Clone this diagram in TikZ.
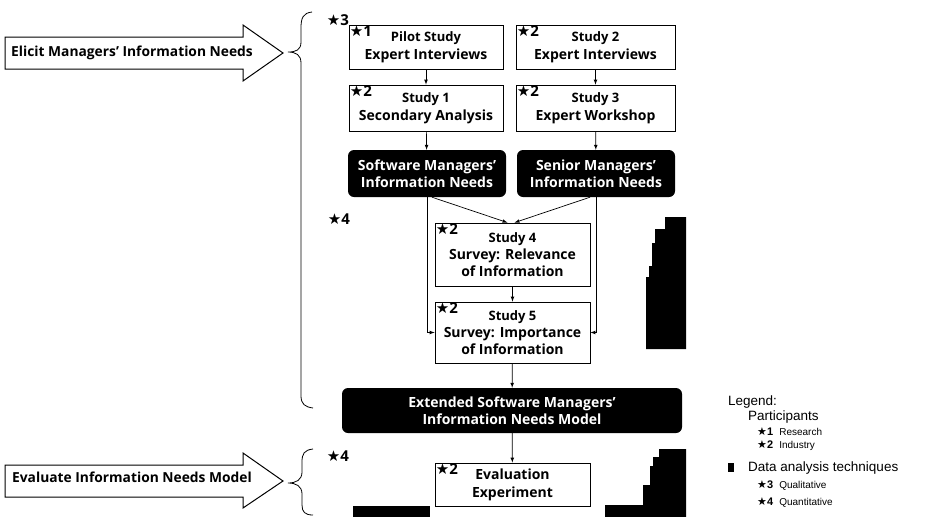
\documentclass[tikz,border=0pt]{standalone}
\usepackage{fontspec}
\setmainfont{Open Sans}
\newfontfamily\symfont{DejaVu Sans}
\newfontfamily\legfont{Liberation Sans}
\usepackage{tikz}
\usetikzlibrary{arrows}

\newcommand{\st}[1]{{\symfont\fontsize{15}{10}\selectfont ★}\textbf{#1}}
\newcommand{\lst}[1]{{\symfont\fontsize{11}{10}\selectfont ★}{\fontsize{11}{10}\selectfont\textbf{#1}}}
\newcommand{\ttl}[1]{{\fontsize{13}{14}\selectfont #1}}

\tikzset{
  box/.style={draw, line width=0.8pt, inner sep=0pt, align=center,
    font=\bfseries\fontsize{14}{18}\selectfont},
  darkbox/.style={fill=black, rounded corners=6pt, text=white, inner sep=0pt,
    align=center, font=\bfseries\fontsize{14}{17}\selectfont},
  starmark/.style={inner sep=1pt, font=\fontsize{15}{15}\selectfont},
  bigtext/.style={font=\bfseries\fontsize{13.8}{14}\selectfont},
  legtext/.style={anchor=west, inner sep=0pt, font=\legfont\fontsize{13.5}{14}\selectfont},
  legsmall/.style={anchor=west, inner sep=0pt, font=\legfont\fontsize{10}{10}\selectfont},
  flow/.style={-latex, line width=0.7pt}
}

\begin{document}
\begin{tikzpicture}[x=1pt, y=-1pt]
\useasboundingbox (0,0) rectangle (938,517);

% big arrows on the left
\draw[line width=1pt, shift={(0,53)}] (5,-16) -- (243,-16) -- (243,-28) -- (283,0)
  -- (243,28) -- (243,16) -- (5,16) -- cycle;
\node[bigtext] (elicit) at (132,53) {Elicit Managers' Information Needs};
\draw[line width=1pt, shift={(0,481)}] (5,-16) -- (243,-16) -- (243,-28) -- (283,0)
  -- (243,27) -- (243,16) -- (5,16) -- cycle;
\node[bigtext] (evaluate) at (132,477) {Evaluate Information Needs Model};

% braces
\draw[line width=0.8pt] (312,12) .. controls (303,13) and (301,18) .. (301,28) -- (301,42)
  .. controls (301,50) and (296,52) .. (288,52) .. controls (296,52) and (301,55) .. (301,63)
  -- (301,396) .. controls (301,404) and (305,407) .. (313,408);
\draw[line width=0.8pt] (313,449) .. controls (304,450) and (302,454) .. (302,462) -- (302,472)
  .. controls (302,480) and (296,483) .. (288,483) .. controls (296,483) and (302,486) .. (302,494)
  -- (302,505) .. controls (302,512) and (305,515) .. (313,515);
\node[starmark] (q3) at (338,20) {\st{3}};
\node[starmark] (q4) at (339,219) {\st{4}};
\node[starmark] (q4b) at (338,456) {\st{4}};

% studies
\node[box, minimum width=154pt, minimum height=44pt] (pilot) at (426,47)
  {\ttl{Pilot Study}\\Expert Interviews};
\node[box, minimum width=159pt, minimum height=44pt] (s2) at (595.5,47)
  {\ttl{Study 2}\\Expert Interviews};
\node[box, minimum width=154pt, minimum height=46pt] (s1) at (426,108)
  {\ttl{Study 1}\\Secondary Analysis};
\node[box, minimum width=159pt, minimum height=46pt] (s3) at (595.5,108)
  {\ttl{Study 3}\\Expert Workshop};
\node[darkbox, minimum width=158pt, minimum height=47pt] (soft) at (427,173.5)
  {Software Managers'\\Information Needs};
\node[darkbox, minimum width=158pt, minimum height=47pt] (senior) at (596,173.5)
  {Senior Managers'\\Information Needs};
\node[box, minimum width=155pt, minimum height=63pt, font=\bfseries\fontsize{14}{17}\selectfont]
  (s4) at (512.5,254.5) {\ttl{Study 4}\\Survey: Relevance\\of Information};
\node[box, minimum width=155pt, minimum height=61pt, font=\bfseries\fontsize{14}{17}\selectfont]
  (s5) at (512.5,332.5) {\ttl{Study 5}\\Survey: Importance\\of Information};
\node[darkbox, minimum width=340pt, minimum height=45pt] (ext) at (512,410.5)
  {Extended Software Managers'\\Information Needs Model};
\node[box, minimum width=155pt, minimum height=43pt] (eval) at (512.5,484.5)
  {\fontsize{14}{14}\selectfont Evaluation\\Experiment};

\node[starmark, anchor=north west] (p1) at (pilot.north west) {\st{1}};
\node[starmark, anchor=north west] (p2) at (s2.north west) {\st{2}};
\node[starmark, anchor=north west] (p3) at (s1.north west) {\st{2}};
\node[starmark, anchor=north west] (p4) at (s3.north west) {\st{2}};
\node[starmark, anchor=north west] (p5) at (s4.north west) {\st{2}};
\node[starmark, anchor=north west] (p6) at (s5.north west) {\st{2}};
\node[starmark, anchor=north west] (p7) at (eval.north west) {\st{2}};

\draw[flow] (pilot) -- (s1);
\draw[flow] (s2) -- (s3);
\draw[flow] (s1) -- (soft);
\draw[flow] (s3) -- (senior);
\draw[flow] ([xshift=5pt]soft.south) -- ([xshift=-5pt]s4.north);
\draw[flow] ([xshift=-6pt]senior.south) -- ([xshift=2pt]s4.north);
\draw[flow] (soft.south) |- (s5.west);
\draw[flow] (senior.south) |- (s5.east);
\draw[flow] (s4) -- (s5);
\draw[flow] (s5) -- (ext);
\draw[flow] (ext) -- (eval);

% black blocks
\fill (646,349) -- (646,277) -- (649,277) -- (649,266) -- (652,266) -- (652,243)
  -- (655,243) -- (655,229) -- (665,229) -- (665,217) -- (686,217) -- (686,349) -- cycle;
\fill (605,517) -- (605,505) -- (643,505) -- (643,485) -- (650,485) -- (650,466)
  -- (653,466) -- (653,457) -- (659,457) -- (659,449) -- (686,449) -- (686,517) -- cycle;
\fill (353,506) rectangle (430,517);

% legend
\node[legtext] (legend) at (728,402) {Legend:};
\node[legtext] (parts) at (748,417) {Participants};
\node[legsmall] (res) at (757,432) {\lst{1}\,\, Research};
\node[legsmall] (ind) at (757,446) {\lst{2}\,\, Industry};
\node[fill=black, minimum width=6pt, minimum height=9pt, inner sep=0pt] (sq) at (731,467) {};
\node[legtext] (dat) at (748,468) {Data analysis techniques};
\node[legsmall] (qual) at (757,485) {\lst{3}\,\, Qualitative};
\node[legsmall] (quant) at (757,502) {\lst{4}\,\, Quantitative};
\end{tikzpicture}
\end{document}
